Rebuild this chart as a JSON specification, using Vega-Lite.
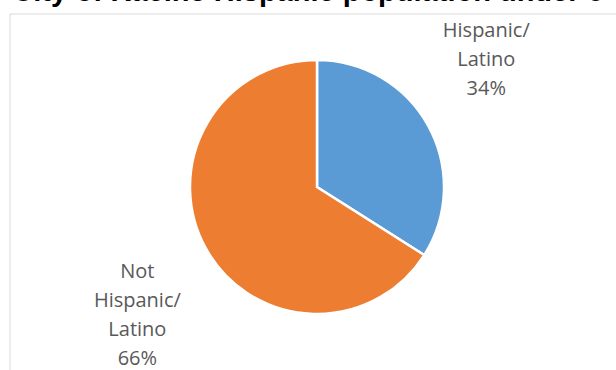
{
  "$schema": "https://vega.github.io/schema/vega-lite/v6.json",
  "autosize": {"type": "none"},
  "width": 614,
  "height": 346,
  "padding": {"left": 10, "top": 14, "right": 0, "bottom": 10},
  "background": "white",
  "title": {
    "text": "City of Racine Hispanic population under 5",
    "font": "Liberation Sans",
    "fontSize": 29,
    "fontWeight": "bold",
    "color": "#000000",
    "anchor": "middle",
    "baseline": "alphabetic",
    "offset": 4,
    "dx": -9,
    "dy": 20
  },
  "data": {
    "values": [
      {"group": "Hispanic/Latino", "label": "Hispanic/\nLatino\n34%", "pct": 34, "order": 1},
      {"group": "Not Hispanic/Latino", "label": "Not\nHispanic/\nLatino\n66%", "pct": 66, "order": 2}
    ]
  },
  "layer": [
    {
      "data": {"values": [{"frame": 1}]},
      "mark": {"type": "rect", "fill": null, "stroke": "#d9d9d9", "strokeWidth": 1, "x": 0, "y": 0, "x2": {"expr": "width + 30"}, "y2": {"expr": "height + 30"}},
      "encoding": {}
    },
    {
      "mark": {"type": "arc", "outerRadius": 127, "stroke": "white", "strokeWidth": 2.5},
      "encoding": {
        "theta": {"field": "pct", "type": "quantitative", "stack": true},
        "order": {"field": "order", "type": "quantitative"},
        "color": {
          "field": "group",
          "type": "nominal",
          "scale": {"domain": ["Hispanic/Latino", "Not Hispanic/Latino"], "range": ["#5B9BD5", "#ED7D31"]},
          "legend": null
        }
      }
    },
    {
      "mark": {"type": "text", "radius": 200, "dx": -6, "dy": -60, "font": "Open Sans", "fontSize": 20, "lineHeight": 29, "color": "#595959", "align": "center", "baseline": "middle", "lineBreak": "\n"},
      "encoding": {
        "theta": {"field": "pct", "type": "quantitative", "stack": true},
        "order": {"field": "order", "type": "quantitative"},
        "text": {"condition": {"test": "datum.order == 1", "field": "label"}, "value": ""}
      }
    },
    {
      "mark": {"type": "text", "radius": 205, "dy": -14, "font": "Open Sans", "fontSize": 20, "lineHeight": 29, "color": "#595959", "align": "center", "baseline": "middle", "lineBreak": "\n"},
      "encoding": {
        "theta": {"field": "pct", "type": "quantitative", "stack": true},
        "order": {"field": "order", "type": "quantitative"},
        "text": {"condition": {"test": "datum.order == 2", "field": "label"}, "value": ""}
      }
    }
  ]
}
